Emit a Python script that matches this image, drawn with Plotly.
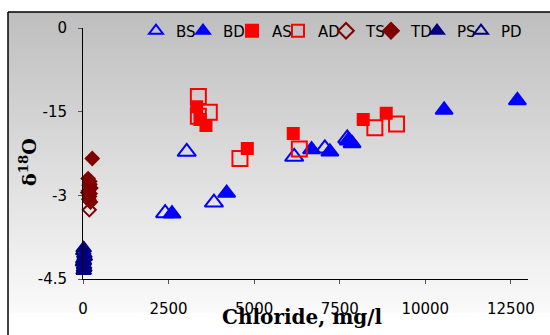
import plotly.graph_objects as go

# Chloride (mg/l) vs delta-18O for each water group
bs_cl = [2400, 3030, 3825, 6170, 7066, 7720]
bs_o18 = [-3.32, -2.22, -3.13, -2.31, -2.16, -1.98]

bd_cl = [2600, 4196, 6677, 7212, 7750, 7860, 10550, 12690]
bd_o18 = [-3.33, -2.96, -2.18, -2.22, -2.02, -2.07, -1.47, -1.30]

as_cl = [3320, 3417, 3592, 4800, 6142, 8186, 8858]
as_o18 = [-1.41, -1.64, -1.75, -2.16, -1.89, -1.64, -1.53]

ad_cl = [3370, 3370, 3690, 4585, 6320, 8526, 9160]
ad_o18 = [-1.23, -1.58, -1.51, -2.34, -2.17, -1.79, -1.72]

ts_cl = [184]
ts_o18 = [-3.26]

td_cl = [270, 150, 200, 180, 230, 160, 210, 190, 170, 220, 200, 140]
td_o18 = [-2.34, -2.70, -2.75, -2.82, -2.87, -2.92, -2.97, -3.02, -3.07, -3.12, -2.80, -2.95]

ps_cl = [20, 40, 10, 30, 20, 50, 0, 35]
ps_o18 = [-3.95, -4.05, -4.15, -4.25, -4.35, -4.10, -4.20, -4.30]

pd_cl = [10, 30, 25]
pd_o18 = [-4.00, -4.30, -4.18]

y_ticks = [0, -1.5, -3, -4.5]
y_tick_text = ["0", "-15", "-3", "-4.5"]
x_ticks = [0, 2500, 5000, 7500, 10000, 12500]
x_tick_text = ["0", "2500", "5000", "7500", "10000", "12500"]

BLUE = "#0000FF"
RED = "#FF0000"
MAROON = "#800000"
NAVY = "#000080"

W, H = 550, 335
ML, MR, MT, MB = 83, 22, 28, 56
PW, PH = W - ML - MR, H - MT - MB


def px_x(px):
    return (px - ML) / PW


def px_y(py):
    return 1 - (py - MT) / PH


# name, x, y, symbol, colour, size, legend key left edge (px)
series = [
    ("BS", bs_cl, bs_o18, "triangle-up-open", BLUE, 16, 136),
    ("BD", bd_cl, bd_o18, "triangle-up", BLUE, 15, 183),
    ("AS", as_cl, as_o18, "square", RED, 11, 232),
    ("AD", ad_cl, ad_o18, "square-open", RED, 15, 278),
    ("TS", ts_cl, ts_o18, "diamond-open", MAROON, 10, 326),
    ("TD", td_cl, td_o18, "diamond", MAROON, 10, 371),
    ("PS", ps_cl, ps_o18, "triangle-up", NAVY, 13, 417),
    ("PD", pd_cl, pd_o18, "triangle-up-open", NAVY, 13, 461),
]

fig = go.Figure()
legends = {}
for i, (name, xs, ys, sym, col, size, lx) in enumerate(series):
    key = "legend" if i == 0 else f"legend{i + 1}"
    fig.add_trace(go.Scatter(
        x=xs, y=ys, mode="markers", name=name, cliponaxis=False,
        legend=key,
        marker=dict(symbol=sym, color=col, size=size,
                    line=dict(color=col, width=2)),
    ))
    legends[key] = dict(
        x=px_x(lx), y=px_y(31), xanchor="left", yanchor="middle",
        bgcolor="rgba(0,0,0,0)", itemwidth=30, itemsizing="constant",
        font=dict(family="DejaVu Sans", size=15, color="black"),
    )

# vertical grey-to-white gradient behind the chart area
shapes = []
top_px, bot_px, left_px = 12, 312, 8
n = 100
for i in range(n):
    y0 = top_px + (bot_px - top_px) * i / n
    y1 = top_px + (bot_px - top_px) * (i + 1) / n
    t = (i + 0.5) / n
    g = int(round(190 + (250 - 190) * t))
    shapes.append(dict(
        type="rect", xref="paper", yref="paper", layer="below",
        x0=px_x(left_px), x1=px_x(W + 2), y0=px_y(y1 + 0.6), y1=px_y(y0),
        fillcolor=f"rgb({g},{g},{g})", line=dict(width=0),
    ))
# frame lines (top and left)
shapes.append(dict(type="line", xref="paper", yref="paper",
                   x0=px_x(left_px), x1=px_x(W + 2), y0=px_y(top_px), y1=px_y(top_px),
                   line=dict(color="black", width=1.5)))
shapes.append(dict(type="line", xref="paper", yref="paper",
                   x0=px_x(left_px), x1=px_x(left_px), y0=px_y(H + 2), y1=px_y(top_px),
                   line=dict(color="black", width=1.5)))

fig.update_layout(
    width=W, height=H,
    margin=dict(l=ML, r=MR, t=MT, b=MB, autoexpand=False),
    paper_bgcolor="white",
    plot_bgcolor="rgba(0,0,0,0)",
    shapes=shapes,
    font=dict(family="DejaVu Sans", size=15, color="black"),
    showlegend=True,
    xaxis=dict(
        range=[0, 13000], tickvals=x_ticks, ticktext=x_tick_text,
        showgrid=False, zeroline=False, showline=True, linecolor="black",
        linewidth=1, ticks="outside", ticklen=4, tickcolor="#555",
        ticklabelstandoff=12,
    ),
    yaxis=dict(
        range=[-4.5, 0], tickvals=y_ticks, ticktext=y_tick_text,
        showgrid=False, zeroline=False, showline=True, linecolor="black",
        linewidth=1, ticks="outside", ticklen=4, tickcolor="#555",
        ticklabelstandoff=8,
    ),
    annotations=[
        dict(text="δ<sup>18</sup>O", xref="paper", yref="paper",
             x=px_x(28), y=px_y(162), xanchor="center", yanchor="middle",
             textangle=-90, showarrow=False,
             font=dict(family="DejaVu Serif", size=19, color="black", weight="bold")),
        dict(text="Chloride, mg/l", xref="paper", yref="paper",
             x=px_x(302.5), y=px_y(317), xanchor="center", yanchor="middle",
             showarrow=False,
             font=dict(family="DejaVu Serif", size=20, color="black", weight="bold")),
    ],
    **legends,
)

fig.write_html("out.html")
